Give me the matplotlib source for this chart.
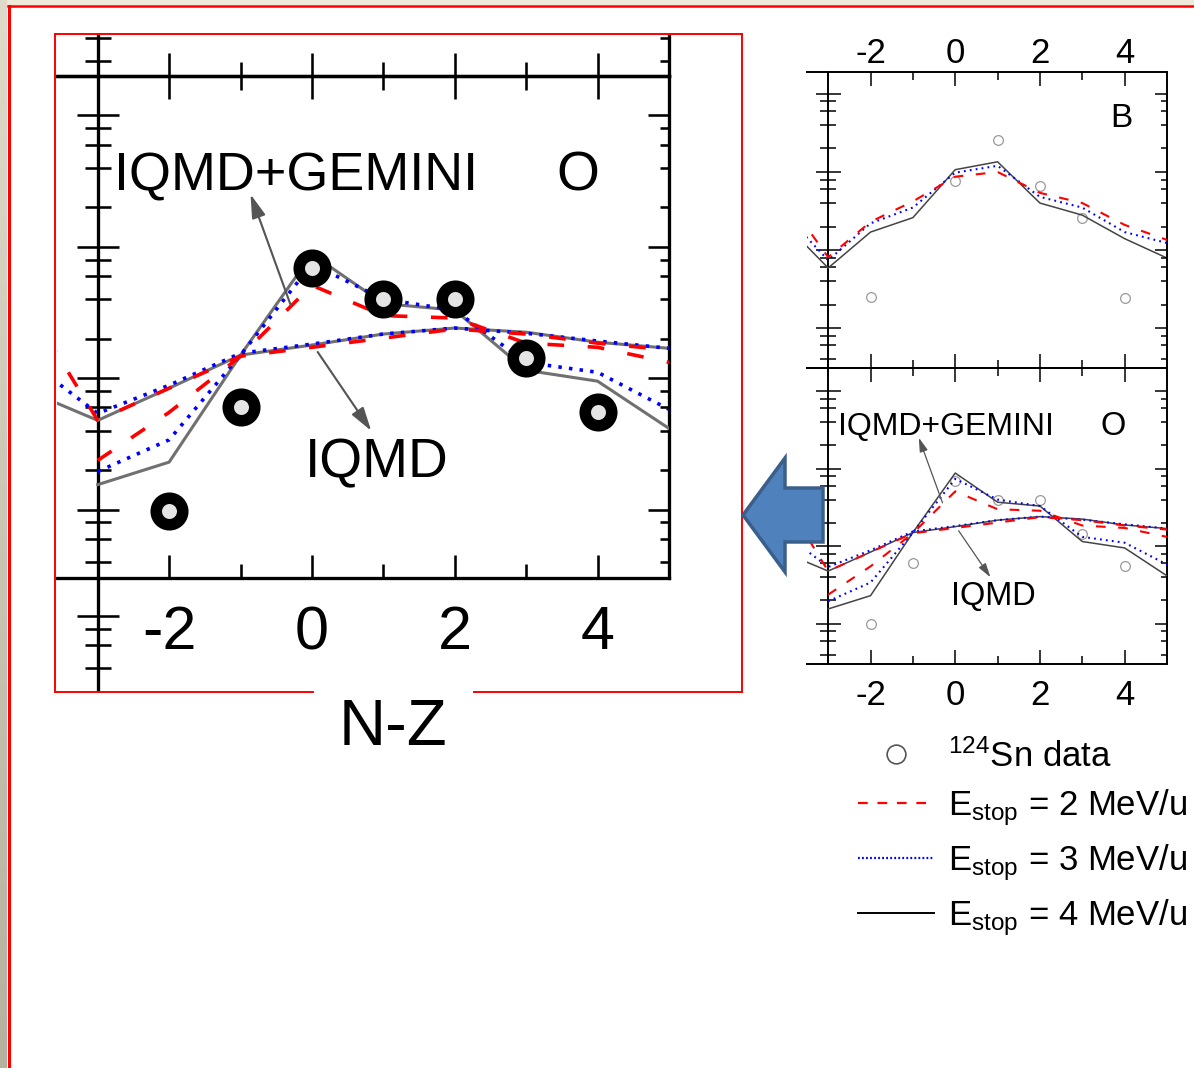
import numpy as np
import matplotlib
matplotlib.use("Agg")
import matplotlib.pyplot as plt
from matplotlib.lines import Line2D
from matplotlib.patches import Polygon, Rectangle
from matplotlib.ticker import MultipleLocator, LogLocator, NullFormatter

plt.rcParams["font.family"] = ["Liberation Sans", "DejaVu Sans"]
plt.rcParams["mathtext.fontset"] = "custom"
plt.rcParams["mathtext.rm"] = "Liberation Sans"
plt.rcParams["mathtext.it"] = "Liberation Sans:italic"
plt.rcParams["mathtext.bf"] = "Liberation Sans:bold"
plt.rcParams["axes.unicode_minus"] = False
plt.rcParams["lines.scale_dashes"] = False

# ---------------- data: yields vs N-Z ----------------
# Boron panel
nz_b = [-4, -3, -2, -1, 0, 1, 2, 3, 4, 5]
b_data_nz = [-2, 0, 1, 2, 3, 4]
b_data = [0.25, 7.7, 26, 6.6, 2.6, 0.24]
b_e2 = [4.6, 0.81, 2.3, 4.2, 8.7, 10.0, 5.4, 4.0, 2.1, 1.35]
b_e3 = [2.8, 0.74, 2.2, 3.5, 9.8, 12.0, 4.8, 3.5, 1.7, 1.23]
b_e4 = [2.1, 0.59, 1.7, 2.6, 10.7, 13.5, 4.0, 2.8, 1.4, 0.79]

# Oxygen panel
o_data_nz = [-2, -1, 0, 1, 2, 3, 4]
o_data = [0.098, 0.60, 6.9, 4.0, 4.0, 1.42, 0.55]
nz_gem = [-3, -2, -1, 0, 1, 2, 3, 4, 5]
o_gem_e2 = [0.237, 0.55, 1.47, 5.1, 3.0, 2.87, 1.85, 1.72, 1.32]
o_gem_e3 = [0.195, 0.34, 1.5, 7.4, 4.0, 3.3, 1.32, 1.11, 0.58]
o_gem_e4 = [0.155, 0.23, 1.5, 8.8, 3.7, 3.3, 1.15, 0.95, 0.415]
nz_iqmd = [-4, -3, -2, -1, 0, 1, 2, 3, 4, 5]
o_iqmd_e2 = [3.7, 0.478, 0.84, 1.47, 1.72, 2.02, 2.37, 2.17, 1.85, 1.64]
o_iqmd_e3 = [1.4, 0.54, 0.885, 1.55, 1.82, 2.17, 2.41, 2.2, 1.92, 1.69]
o_iqmd_e4 = [0.81, 0.478, 0.84, 1.5, 1.79, 2.17, 2.41, 2.24, 1.88, 1.69]

x_ticklabels = ["-2", "0", "2", "4"]
legend_labels = [r"$^{124}$Sn data",
                 r"E$_{\mathrm{stop}}$ = 2 MeV/u",
                 r"E$_{\mathrm{stop}}$ = 3 MeV/u",
                 r"E$_{\mathrm{stop}}$ = 4 MeV/u"]

W, H = 1194, 1068
fig = plt.figure(figsize=(W / 100, H / 100), dpi=100)
fig.patch.set_facecolor("white")


def box(x0, y0, x1, y1):
    return [x0 / W, 1 - y1 / H, (x1 - x0) / W, (y1 - y0) / H]


def fx(x):
    return x / W


def fy(y):
    return 1 - y / H


# ---------------- slide background ----------------
axg = fig.add_axes(box(0, 0, 7, H))
top_c = np.array([0xDE, 0xDB, 0xCB]) / 255
bot_c = np.array([0xB4, 0xB1, 0xA1]) / 255
t = np.linspace(0, 1, 64)[:, None, None]
axg.imshow(top_c * (1 - t) + bot_c * t, aspect="auto")
axg.axis("off")
fig.add_artist(Rectangle((0, fy(5)), 1, 5 / H, transform=fig.transFigure,
                         color="#EDEAD9", zorder=0))
fig.add_artist(Line2D([fx(8), 1], [fy(6), fy(6)], transform=fig.transFigure,
                      color="red", lw=1.8))
fig.add_artist(Line2D([fx(9), fx(9)], [fy(6), 0], transform=fig.transFigure,
                      color="red", lw=2.2))


def frame(ax, xlim, ylog, s, sides, xt_on, labels, fs, pad, right_ticks=True):
    ax.set_xlim(*xlim)
    ax.set_yscale("log")
    ax.set_ylim(10 ** ylog[0], 10 ** ylog[1])
    ax.patch.set_visible(False)
    if right_ticks:
        tw = ax.twinx()
        tw.set_yscale("log")
        tw.set_ylim(ax.get_ylim())
        for sp in tw.spines.values():
            sp.set_visible(False)
        tw.yaxis.set_major_locator(LogLocator(base=10, numticks=30))
        tw.yaxis.set_minor_locator(LogLocator(base=10, subs=(2, 4, 6, 8), numticks=30))
        tw.yaxis.set_major_formatter(NullFormatter())
        tw.yaxis.set_minor_formatter(NullFormatter())
        tw.tick_params(axis="y", which="both", direction="in", right=True, left=False,
                       labelright=False, width=1.1 * s, color="black")
        tw.tick_params(axis="y", which="major", length=9 * s)
        tw.tick_params(axis="y", which="minor", length=4 * s)
    for k in ("top", "bottom", "right"):
        ax.spines[k].set_visible(k in sides)
        ax.spines[k].set_linewidth(1.4 * s)
    ax.spines["left"].set_position(("data", -3))
    ax.spines["left"].set_linewidth(1.4 * s)
    ax.xaxis.set_major_locator(MultipleLocator(2))
    ax.xaxis.set_minor_locator(MultipleLocator(1))
    ax.tick_params(axis="x", which="both", direction="in",
                   top="top" in xt_on, bottom="bottom" in xt_on,
                   labeltop="top" in labels, labelbottom="bottom" in labels,
                   width=1.1 * s, labelsize=fs, pad=pad)
    ax.tick_params(axis="x", which="major", length=10 * s)
    ax.tick_params(axis="x", which="minor", length=6 * s)
    ax.yaxis.set_major_locator(LogLocator(base=10, numticks=30))
    ax.yaxis.set_minor_locator(LogLocator(base=10, subs=(2, 4, 6, 8), numticks=30))
    ax.yaxis.set_major_formatter(NullFormatter())
    ax.yaxis.set_minor_formatter(NullFormatter())
    ax.tick_params(axis="y", which="both", direction="inout", left=True, right=False,
                   width=1.1 * s)
    ax.tick_params(axis="y", which="major", length=18 * s)
    ax.tick_params(axis="y", which="minor", length=11 * s)


def draw_curves(ax, nz, e2, e3, e4, s, gray):
    ax.plot(nz, e4, color=gray, lw=1.1 * s, zorder=3)
    ax.plot(nz, e3, color="blue", lw=1.5 * s, dashes=(1.3 * s, 3.0 * s), zorder=4)
    ax.plot(nz, e2, color="red", lw=1.5 * s, dashes=(7 * s, 9 * s), zorder=5)


def annotate_o(ax, s):
    ax.text(-0.22, 10 ** 1.43, "IQMD+GEMINI", fontsize=23 * s, ha="center",
            va="baseline", zorder=8)
    ax.text(3.72, 10 ** 1.43, "O", fontsize=23.5 * s, ha="center", va="baseline",
            zorder=8)
    ax.text(0.91, 10 ** -0.755, "IQMD", fontsize=23.5 * s, ha="center", va="baseline",
            zorder=8)
    style = "-|>,head_length=0.85,head_width=0.25"
    ax.annotate("", xy=(-0.86, 10 ** 1.40), xytext=(-0.30, 10 ** 0.56),
                arrowprops=dict(arrowstyle=style, color="#555555", lw=0.9 * s,
                                shrinkA=0, shrinkB=0, mutation_scale=10 * s), zorder=8)
    ax.annotate("", xy=(0.83, 10 ** -0.40), xytext=(0.08, 10 ** 0.20),
                arrowprops=dict(arrowstyle=style, color="#555555", lw=0.9 * s,
                                shrinkA=0, shrinkB=0, mutation_scale=10 * s), zorder=8)


# ---------------- right column: B and O panels ----------------
axB = fig.add_axes(box(807, 72, 1167, 368))
frame(axB, (-3.5, 5.0), (-1.51, 2.28), 1.0, ("top", "bottom", "right"),
      ("top", "bottom"), ("top",), 25, 1.5)
axB.set_xticks([-2, 0, 2, 4], x_ticklabels)
draw_curves(axB, nz_b, b_e2, b_e3, b_e4, 1.0, "#444444")
axB.plot(b_data_nz, b_data, ls="none", marker="o", ms=7, mfc="none", mec="#9a9a9a",
         mew=0.9, zorder=2)
axB.text(3.93, 10 ** 1.577, "B", fontsize=24, ha="center", va="baseline")

axO = fig.add_axes(box(807, 368, 1167, 664))
frame(axO, (-3.5, 5.0), (-1.52, 2.30), 1.0, ("top", "bottom", "right"),
      ("top", "bottom"), ("bottom",), 25, 11.0)
axO.set_xticks([-2, 0, 2, 4], x_ticklabels)
draw_curves(axO, nz_gem, o_gem_e2, o_gem_e3, o_gem_e4, 1.0, "#444444")
draw_curves(axO, nz_iqmd, o_iqmd_e2, o_iqmd_e3, o_iqmd_e4, 1.0, "#444444")
axO.plot(o_data_nz, o_data, ls="none", marker="o", ms=7, mfc="none", mec="#9a9a9a",
         mew=0.9, zorder=2)
annotate_o(axO, 1.0)

# ---------------- left column: enlarged O panel ----------------
S = 1.69
XL = (-3.57, 5.0)
axLB = fig.add_axes(box(57, 36, 669, 76))
frame(axLB, XL, (-1.51, -1.51 + 40 / 131.4), S, ("bottom", "right"),
      ("bottom",), (), 44, 19.5)

axLO = fig.add_axes(box(57, 76, 669, 578))
frame(axLO, XL, (-1.52, 2.30), S, ("top", "bottom", "right"),
      ("top", "bottom"), ("bottom",), 44, 19.5)
axLO.set_xticks([-2, 0, 2, 4], x_ticklabels)
for nz, e2, e3, e4 in ((nz_gem, o_gem_e2, o_gem_e3, o_gem_e4),
                       (nz_iqmd, o_iqmd_e2, o_iqmd_e3, o_iqmd_e4)):
    axLO.plot(nz, e4, color="#707070", lw=2.2, zorder=3)
    axLO.plot(nz, e3, color="blue", lw=2.6, dashes=(2.5, 5.2), zorder=4)
    axLO.plot(nz, e2, color="red", lw=2.6, dashes=(12, 17), zorder=5)
axLO.plot(o_data_nz, o_data, ls="none", marker="o", ms=19.1, mfc="#e4e4e4",
          mec="black", mew=8.3, zorder=9)
annotate_o(axLO, S)

axLC = fig.add_axes(box(57, 578, 669, 690))
frame(axLC, XL, (2.29 - 112 / 131.4, 2.29), S, (), (), (), 44, 19.5,
      right_ticks=False)

# ---------------- callout frame and arrow ----------------
red_kw = dict(transform=fig.transFigure, color="red", lw=1.4, zorder=20)
fig.add_artist(Line2D([fx(55), fx(742)], [fy(34), fy(34)], **red_kw))
fig.add_artist(Line2D([fx(55), fx(55)], [fy(34), fy(692)], **red_kw))
fig.add_artist(Line2D([fx(742), fx(742)], [fy(34), fy(692)], **red_kw))
fig.add_artist(Line2D([fx(55), fx(313)], [fy(692), fy(692)], **red_kw))
fig.add_artist(Line2D([fx(474), fx(742)], [fy(692), fy(692)], **red_kw))
fig.text(fx(393), fy(745), "N-Z", fontsize=47, ha="center", va="baseline")

arrow_px = [(743, 515), (785, 458), (785, 488), (823, 488), (823, 542),
            (785, 542), (785, 572)]
fig.add_artist(Polygon([(fx(x), fy(y)) for x, y in arrow_px], closed=True,
                       transform=fig.transFigure, facecolor="#4F81BD",
                       edgecolor="#3A5F8B", lw=2.5, zorder=21))

# ---------------- legend ----------------
handles = [
    Line2D([], [], ls="none", marker="o", ms=13.5, mfc="none", mec="#555555", mew=1.2),
    Line2D([], [], color="red", lw=1.6, dashes=(7, 7)),
    Line2D([], [], color="blue", lw=1.6, dashes=(1.3, 1.6)),
    Line2D([], [], color="black", lw=1.4),
]
fig.legend(handles, legend_labels, loc="upper left",
           bbox_to_anchor=(fx(858), fy(739)), frameon=False, fontsize=25,
           borderpad=0, borderaxespad=0, handlelength=2.2, handletextpad=0.4,
           labelspacing=0.4)

fig.savefig("out.png", dpi=100, facecolor="white")
